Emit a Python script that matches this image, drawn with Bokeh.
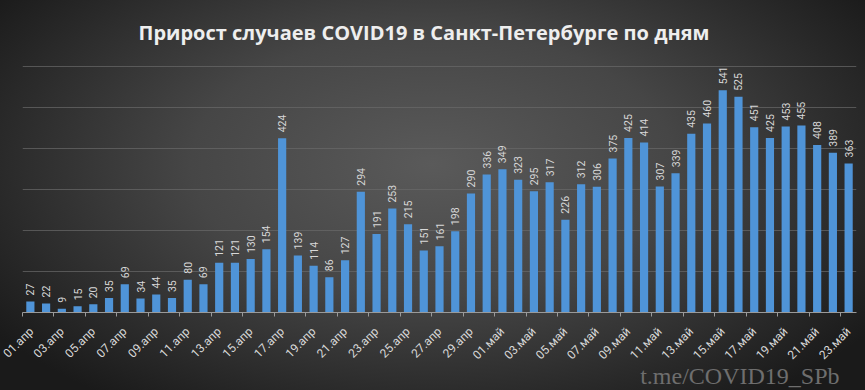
from math import pi
from bokeh.plotting import figure
from bokeh.models import ColumnDataSource, FixedTicker, Title
from bokeh.core.properties import value
from bokeh.embed import file_html
from bokeh.resources import INLINE

title_text = "Прирост случаев COVID19 в Санкт-Петербурге по дням"
watermark = "t.me/COVID19_SPb"

april_days = [f"{d:02d}.апр" for d in range(1, 31)]
may_days = [f"{d:02d}.май" for d in range(1, 24)]
dates = april_days + may_days

cases = [27, 22, 9, 15, 20, 35, 69, 34, 44, 35, 80, 69, 121, 121, 130, 154,
         424, 139, 114, 86, 127, 294, 191, 253, 215, 151, 161, 198, 290, 336,
         349, 323, 295, 317, 226, 312, 306, 375, 425, 414, 307, 339, 435, 460,
         541, 525, 451, 425, 453, 455, 408, 389, 363]

grid_values = [100, 200, 300, 400, 500, 600]

W, H = 865, 390
n = len(dates)
xs = [i + 0.5 for i in range(n)]

src = ColumnDataSource(dict(x=xs, top=cases, label=[str(c) for c in cases]))

p = figure(width=W, height=H, output_backend="svg", toolbar_location=None,
           x_range=(0, n), y_range=(0, 650),
           min_border_left=22, min_border_right=9,
           min_border_top=45, min_border_bottom=78)
p.styles = {"background": "radial-gradient(ellipse 62% 75% at 50% 42%, #5a5a5a 0%, #464646 45%, #2a2a2a 80%, #1a1a1a 100%)"}
p.border_fill_alpha = 0
p.background_fill_alpha = 0
p.outline_line_color = None

p.title.text = title_text
p.title.align = "left"
p.title.offset = 116
p.title.text_color = "#eeeeee"
p.title.text_font = "Open Sans"
p.title.text_font_style = "bold"
p.title.text_font_size = "20px"
p.title.standoff = 0

p.add_layout(Title(text=watermark, align="right", text_color="#6e6e6e",
                   text_font="Liberation Serif", text_font_style="normal",
                   text_font_size="24px", offset=17, standoff=-18), "below")

p.vbar(x="x", top="top", width=0.52, source=src, fill_color="#4f94d8", line_color=None)
p.text(x="x", y="top", text="label", source=src, angle=pi / 2, y_offset=-6,
       text_align="left", text_baseline="middle", text_color="#d8d8d8",
       text_font=value("Roboto"), text_font_size="10.5px")

# axes
p.yaxis.visible = False
p.ygrid.ticker = FixedTicker(ticks=grid_values)
p.ygrid.grid_line_color = "#6a6a6a"
p.ygrid.grid_line_alpha = 0.7
p.xgrid.visible = False

label_ticks = [xs[i] for i in range(0, n, 2)]
p.xaxis.ticker = FixedTicker(ticks=label_ticks, minor_ticks=list(range(0, n, 2)))
p.xaxis.major_label_overrides = {xs[i]: dates[i] for i in range(0, n, 2)}
p.xaxis.major_label_orientation = pi / 4
p.xaxis.major_tick_line_color = None
p.xaxis.major_tick_out = 0
p.xaxis.major_tick_in = 0
p.xaxis.minor_tick_line_color = "#9a9a9a"
p.xaxis.minor_tick_out = 4
p.xaxis.minor_tick_in = 0
p.xaxis.axis_line_color = "#9a9a9a"
p.xaxis.major_label_standoff = 13
p.xaxis.major_label_text_color = "#d8d8d8"
p.xaxis.major_label_text_font = "Roboto"
p.xaxis.major_label_text_font_size = "12px"

open("out.html", "w").write(file_html(p, INLINE))
